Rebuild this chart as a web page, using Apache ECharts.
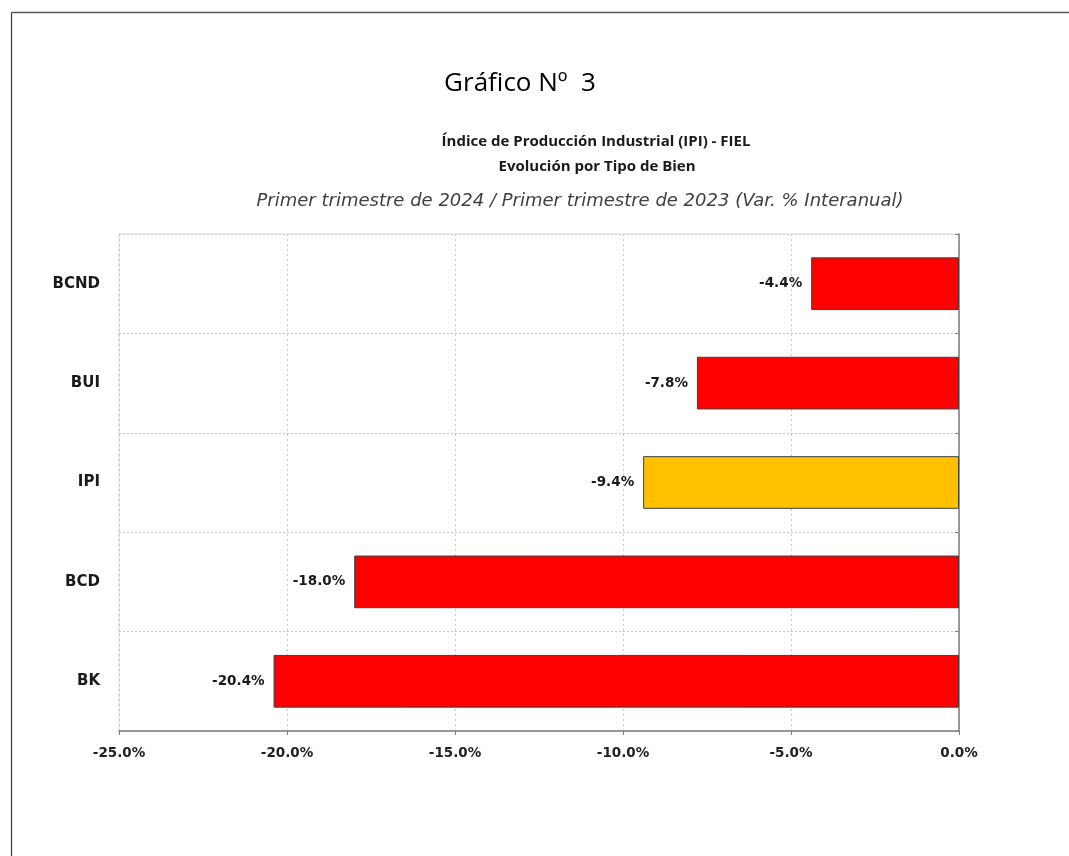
<!DOCTYPE html>
<html>
<head>
<meta charset="utf-8">
<script src="https://cdn.jsdelivr.net/npm/echarts@6/dist/echarts.min.js"></script>
<style>html,body{margin:0;padding:0;background:#fff}#c{width:1069px;height:856px}</style>
</head>
<body>
<div id="c"></div>
<script>
const categories = ['BCND', 'BUI', 'IPI', 'BCD', 'BK'];
const values = [-4.4, -7.8, -9.4, -18.0, -20.4];
const highlightCategory = 'IPI';
const xTicks = { min: -25, max: 0, interval: 5 };
const chartLabel = 'Gráfico Nº  3';
const titleLine1 = 'Índice de Producción Industrial (IPI) - FIEL';
const titleLine2 = 'Evolución por Tipo de Bien';
const titleLine3 = 'Primer trimestre de 2024 / Primer trimestre de 2023 (Var. % Interanual)';

const chart = echarts.init(document.getElementById('c'), null, { renderer: 'canvas' });
const pct = v => v.toFixed(1) + '%';
const option = {
  backgroundColor: '#ffffff',
  animation: false,
  graphic: [
    { type: 'line', shape: { x1: 11.5, y1: 12.5, x2: 1069, y2: 12.5 }, style: { stroke: '#5a5a5a', lineWidth: 1.5 } },
    { type: 'line', shape: { x1: 11.5, y1: 12.5, x2: 11.5, y2: 856 }, style: { stroke: '#3a3a3a', lineWidth: 1.2 } }
  ],
  title: [
    { text: chartLabel, left: 515, top: 66, textAlign: 'center',
      textStyle: { fontFamily: 'Open Sans', fontWeight: 'normal', fontSize: 26, color: '#000' } },
    { text: titleLine1, left: 591, top: 129, textAlign: 'center',
      textStyle: { fontFamily: 'Open Sans', fontWeight: 'bold', fontSize: 15, color: '#1a1a1a' } },
    { text: titleLine2, left: 592, top: 154, textAlign: 'center',
      textStyle: { fontFamily: 'Open Sans', fontWeight: 'bold', fontSize: 15, color: '#1a1a1a' } },
    { text: titleLine3, left: 575, top: 187, textAlign: 'center',
      textStyle: { fontFamily: 'DejaVu Sans', fontWeight: 'normal', fontStyle: 'italic', fontSize: 18, color: '#404040' } }
  ],
  grid: { left: 119, right: 110, top: 234, bottom: 125, show: true, borderColor: '#d9d9d9', borderWidth: 1 },
  xAxis: {
    type: 'value', min: xTicks.min, max: xTicks.max, interval: xTicks.interval,
    axisLine: { show: true, lineStyle: { color: '#808080', width: 1.5 } },
    axisTick: { show: true, length: 4, lineStyle: { color: '#808080' } },
    axisLabel: { formatter: pct, fontFamily: 'DejaVu Sans', fontWeight: 'bold', fontSize: 13.5, color: '#222', margin: 15 },
    splitLine: { show: true, lineStyle: { color: '#c8c8c8', type: [2, 3] } }
  },
  yAxis: [
    {
      type: 'category', data: categories, inverse: true, position: 'left',
      axisLine: { show: true, lineStyle: { color: '#d9d9d9' } },
      axisTick: { show: false },
      axisLabel: { fontFamily: 'DejaVu Sans', fontWeight: 'bold', fontSize: 15, color: '#1a1a1a', margin: 19 },
      splitLine: { show: true, lineStyle: { color: '#c8c8c8', type: [2, 2] } }
    },
    {
      type: 'category', data: categories, inverse: true, position: 'right',
      axisLine: { show: true, onZero: false, lineStyle: { color: '#808080', width: 1.5 } },
      axisTick: { show: true, inside: true, length: 4, lineStyle: { color: '#808080' } },
      axisLabel: { show: false },
      splitLine: { show: false }
    }
  ],
  series: [{
    type: 'bar', yAxisIndex: 0, barCategoryGap: '47%',
    data: values.map((v, i) => ({
      value: v,
      itemStyle: { color: categories[i] === highlightCategory ? '#FFC000' : '#FF0000' }
    })),
    itemStyle: { borderColor: '#404040', borderWidth: 1 },
    label: { show: true, position: 'left', distance: 9, formatter: p => pct(p.value),
      fontFamily: 'DejaVu Sans', fontWeight: 'bold', fontSize: 13.5, color: '#1a1a1a' }
  }]
};
chart.setOption(option);
</script>
</body>
</html>
